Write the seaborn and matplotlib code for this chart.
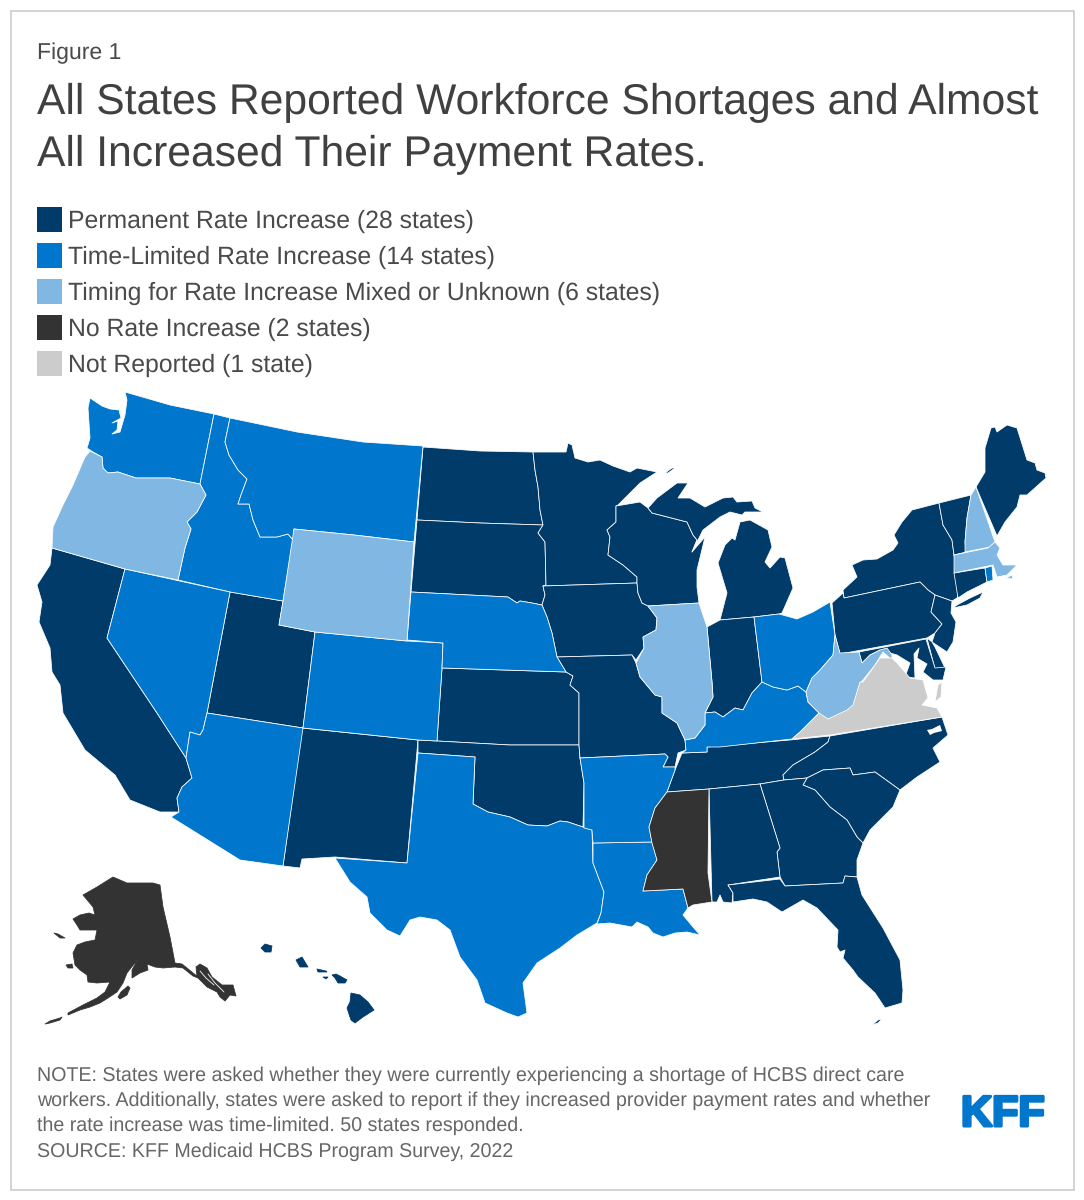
import matplotlib
matplotlib.use("Agg")
import matplotlib.pyplot as plt
from matplotlib.patches import Patch, Rectangle
import matplotlib.patheffects as pe
import seaborn as sns

# ---- legend / categories ----
CATEGORY_LABELS = ["Permanent Rate Increase (28 states)", "Time-Limited Rate Increase (14 states)",
                   "Timing for Rate Increase Mixed or Unknown (6 states)", "No Rate Increase (2 states)",
                   "Not Reported (1 state)"]
CATEGORY_COLORS = ["#003B6A", "#0076CC", "#80B8E3", "#333333", "#CCCCCC"]

PERMANENT = ["CA", "UT", "NM", "ND", "SD", "KS", "OK", "MN", "IA", "MO", "WI", "MI", "IN", "TN", "NC", "SC",
             "GA", "AL", "FL", "NY", "PA", "NJ", "DE", "MD", "VT", "ME", "CT", "HI"]
TIME_LIMITED = ["WA", "ID", "MT", "NV", "AZ", "CO", "NE", "TX", "LA", "AR", "KY", "OH", "RI"]
MIXED = ["OR", "WY", "IL", "WV", "NH", "MA"]
NO_INCREASE = ["MS", "AK"]
NOT_REPORTED = ["VA"]
INSET_STATES = ["AK", "HI"]

# ---- state outlines (map x, map y) ----
WA = [(125,392),(170,405),(214,414),(200,484),(170,478),(147,478),(136,478),(118,472),(108,473),(103,468),(102,457),(93,452),(87,448),(90,438),(88,408),(90,398),(102,406),(110,409),(119,410),(121,418),(112,423),(118,421),(117,430),(112,434),(120,432),(125,415),(127,400)]
OR = [(90,451),(102,457),(103,468),(108,473),(118,472),(136,478),(147,478),(170,478),(200,484),(206,495),(197,512),(187,522),(191,529),(185,548),(178,580),(125,569),(52,548),(53,527),(63,505),(73,485),(85,457)]
ID = [(214,414),(230,418),(225,442),(229,455),(238,470),(247,479),(241,495),(238,504),(249,504),(253,520),(260,537),(277,537),(288,534),(293,540),(283,601),(230,592),(178,580),(185,548),(191,529),(187,522),(197,512),(206,495),(200,484)]
MT = [(230,418),(297,432),(363,442),(423,446),(414,542),(354,535),(294,529),(293,540),(288,534),(277,537),(260,537),(253,520),(249,504),(238,504),(241,495),(247,479),(238,470),(229,455),(225,442)]
WY = [(294,529),(354,535),(414,542),(407,641),(315,632),(279,625),(283,601)]
ND = [(423,447),(480,451),(533,452),(535,470),(538,487),(540,510),(543,525),(480,523),(417,520)]
SD = [(417,520),(480,523),(543,525),(538,533),(545,542),(546,585),(543,586),(545,595),(542,605),(532,603),(520,601),(517,603),(508,597),(411,592)]
NE = [(411,592),(508,597),(517,603),(520,601),(532,603),(542,605),(547,617),(552,633),(557,657),(566,672),(442,668),(443,643),(407,640)]
KS = [(442,668),(566,672),(573,676),(570,685),(579,693),(579,745),(510,745),(437,741)]
OK = [(418,740),(437,741),(510,745),(579,745),(580,758),(584,783),(583,827),(568,822),(560,821),(547,826),(528,825),(510,817),(488,812),(473,804),(475,757),(418,753)]
TX = [(418,753),(475,757),(473,804),(488,812),(510,817),(528,825),(547,826),(560,821),(568,822),(583,827),(592,830),(593,863),(604,892),(601,913),(597,923),(577,935),(560,948),(537,963),(523,983),(527,1013),(518,1017),(507,1013),(485,1003),(477,980),(460,957),(450,930),(437,920),(420,917),(410,920),(400,936),(387,930),(370,913),(367,897),(350,882),(335,858),(407,863)]
NM = [(302,728),(418,740),(407,863),(335,857),(302,859),(300,868),(283,866)]
CO = [(315,632),(407,641),(443,643),(442,668),(437,741),(418,740),(303,728)]
UT = [(230,592),(283,601),(279,625),(315,632),(303,728),(207,713)]
NV = [(125,569),(230,592),(207,713),(203,730),(200,735),(190,732),(186,758),(157,713),(107,638)]
CA = [(52,548),(125,569),(107,638),(157,713),(186,758),(192,778),(182,787),(177,798),(179,812),(160,812),(130,800),(115,775),(85,750),(63,713),(60,685),(52,672),(50,648),(39,622),(42,602),(37,585),(50,565)]
AZ = [(207,713),(303,728),(283,866),(240,860),(171,817),(179,812),(177,798),(182,787),(192,778),(186,758),(190,732),(200,735),(203,730)]
MN = [(533,452),(566,452),(568,443),(572,445),(575,458),(588,462),(600,460),(613,466),(630,472),(637,468),(657,472),(640,483),(618,505),(616,506),(616,522),(607,530),(610,537),(608,555),(623,565),(637,577),(637,583),(543,586),(546,585),(545,542),(538,533),(543,525),(540,510),(538,487),(535,470)]
IA = [(543,586),(637,583),(638,593),(642,603),(648,606),(657,618),(656,630),(643,637),(644,648),(636,660),(632,655),(557,657),(552,633),(547,617),(542,605),(545,595)]
MO = [(557,657),(632,655),(636,663),(640,677),(655,695),(662,697),(662,713),(677,723),(685,740),(686,750),(678,753),(675,767),(663,767),(668,757),(665,754),(580,758),(579,745),(579,693),(570,685),(573,676),(566,672)]
WI = [(616,506),(640,502),(648,508),(652,513),(687,522),(693,535),(697,540),(692,552),(705,537),(697,570),(697,587),(699,603),(648,606),(642,603),(638,593),(637,583),(637,577),(623,565),(608,555),(610,537),(607,530),(616,522)]
IL = [(648,606),(699,603),(702,612),(707,627),(712,682),(713,697),(705,713),(705,725),(695,738),(685,740),(677,723),(662,713),(662,697),(655,695),(640,677),(636,663),(644,648),(643,637),(656,630),(657,618)]
IN = [(707,627),(720,620),(754,617),(762,682),(752,693),(743,710),(735,708),(723,717),(715,712),(705,713),(713,697),(712,682)]
OH = [(754,617),(779,614),(797,619),(813,612),(830,602),(835,635),(833,655),(820,670),(812,678),(806,692),(798,686),(787,690),(773,687),(762,682)]
KY = [(762,682),(773,687),(787,690),(798,686),(806,692),(808,702),(819,713),(800,732),(792,739),(720,747),(707,747),(707,752),(682,753),(686,750),(685,740),(695,738),(705,725),(705,713),(715,712),(723,717),(735,708),(743,710),(752,693)]
TN = [(682,753),(707,752),(707,747),(790,740),(830,736),(828,742),(815,752),(793,765),(783,775),(784,780),(760,784),(709,789),(667,792),(675,770)]
NC = [(830,736),(942,717),(948,735),(933,748),(940,762),(917,777),(900,790),(875,772),(853,775),(850,768),(823,770),(807,778),(784,780),(783,775),(793,765),(815,752),(828,742)]
NC_SOUNDS = [(927,730),(932,729),(940,725),(942,731),(934,733),(930,735)]
SC = [(807,778),(823,770),(850,768),(853,775),(875,772),(900,790),(893,807),(870,830),(863,843),(857,837),(847,820),(830,807),(815,790),(803,785)]
GA = [(760,784),(784,780),(807,778),(803,785),(815,790),(830,807),(847,820),(857,837),(863,843),(857,860),(857,877),(845,876),(843,883),(785,886),(780,877),(777,852),(780,848)]
AL = [(709,789),(760,784),(780,848),(777,852),(780,877),(728,885),(733,893),(732,903),(723,902),(720,895),(717,902),(712,902)]
FL = [(728,885),(780,879),(785,886),(843,883),(845,876),(857,877),(862,895),(883,928),(900,960),(903,990),(902,1003),(885,1008),(875,993),(858,977),(853,970),(843,958),(845,950),(840,952),(837,947),(838,930),(817,908),(803,900),(782,912),(767,902),(753,899),(733,902),(733,893)]
FL_KEYS = [(872,1025),(878,1020),(882,1019),(878,1023)]
MS = [(667,792),(709,789),(708,873),(712,902),(693,905),(688,908),(683,889),(643,891),(647,875),(657,860),(652,843),(649,827),(655,808)]
LA = [(593,843),(652,842),(657,860),(647,875),(643,891),(683,889),(688,908),(683,915),(693,927),(700,935),(687,932),(675,933),(663,937),(653,933),(648,927),(637,922),(632,927),(610,923),(597,924),(601,913),(604,892),(593,863)]
AR = [(580,758),(665,754),(668,757),(663,767),(675,767),(675,770),(667,792),(655,808),(649,827),(652,842),(593,843),(592,830),(584,828),(584,783)]
MI_LOWER = [(720,620),(727,593),(718,563),(725,545),(732,538),(735,540),(740,522),(750,520),(768,530),(772,547),(765,562),(770,568),(780,557),(785,558),(793,588),(782,613),(779,614),(754,617)]
MI_UPPER = [(648,508),(657,498),(677,483),(688,483),(678,498),(690,498),(705,507),(723,498),(733,497),(737,502),(752,501),(755,508),(763,512),(745,512),(742,515),(730,512),(720,517),(703,530),(692,552),(697,540),(693,535),(687,522),(652,513)]
MI_ROYALE = [(665,473),(672,468),(675,468),(668,473)]
NY = [(843,590),(844,598),(920,582),(928,590),(935,595),(952,601),(957,598),(959,592),(954,555),(952,540),(943,525),(939,503),(912,510),(902,522),(894,535),(898,543),(893,550),(877,559),(863,560),(852,565),(857,577)]
NY_LI = [(953,608),(957,605),(970,598),(983,592),(980,598),(967,605)]
PA = [(832,603),(843,593),(844,598),(920,582),(928,590),(935,595),(931,612),(942,624),(935,633),(927,638),(840,654),(835,635)]
NJ = [(935,595),(952,601),(951,613),(956,622),(953,642),(947,652),(932,642),(935,633),(942,624),(931,612)]
DE = [(927,638),(932,642),(935,647),(945,668),(935,669)]
MD = [(859,652),(926,639),(935,668),(946,667),(943,680),(933,680),(923,672),(927,664),(917,658),(919,648),(914,654),(915,678),(905,677),(910,663),(897,655),(880,650),(870,655),(862,663)]
WV = [(840,653),(859,652),(862,663),(870,655),(880,650),(887,648),(892,655),(892,660),(883,652),(875,665),(863,680),(860,683),(853,707),(840,715),(825,720),(819,713),(808,702),(806,692),(812,678),(820,670),(833,655),(835,635)]
VA = [(792,739),(800,732),(819,713),(828,719),(847,710),(853,705),(860,682),(863,682),(880,658),(892,658),(897,663),(910,678),(923,680),(928,698),(922,705),(937,708),(942,717),(830,735)]
VA_SHORE = [(935,702),(938,685),(942,682),(941,697)]
NH = [(971,495),(976,487),(995,542),(990,547),(965,552),(965,542),(967,518)]
VT = [(939,503),(971,495),(967,518),(965,542),(966,552),(954,555),(952,540),(943,525)]
ME = [(976,487),(985,472),(985,448),(991,428),(995,427),(997,432),(1007,425),(1017,428),(1027,460),(1035,463),(1037,470),(1045,473),(1046,478),(1027,495),(1020,495),(1017,507),(1005,522),(997,536)]
MA = [(954,555),(988,548),(995,542),(1000,548),(997,555),(1003,565),(1017,565),(1007,575),(997,577),(993,565),(954,573)]
MA_ISLAND = [(1006,578),(1012,575),(1013,579)]
CT = [(954,573),(985,568),(987,582),(967,592),(958,598)]
RI = [(985,568),(992,566),(993,580),(987,582)]
HI_KAUAI = [(261,948),(265,944),(272,946),(271,952),(265,952)]
HI_OAHU = [(296,960),(302,957),(308,967),(300,967)]
HI_MOLOKAI = [(317,969),(326,971),(327,972),(318,972)]
HI_LANAI = [(323,977),(328,977),(326,979)]
HI_MAUI = [(332,975),(336,974),(340,976),(347,980),(345,983),(338,983),(335,978)]
HI_BIG = [(351,993),(360,995),(368,1002),(374,1010),(363,1017),(355,1023),(351,1020),(347,1008),(350,1002)]
AK = [(160,885),(163,907),(170,937),(175,963),(182,964),(187,968),(193,973),(197,976),(196,967),(200,964),(207,968),(212,977),(222,985),(233,985),(236,996),(230,995),(225,1001),(220,997),(217,992),(207,987),(198,978),(193,976),(183,968),(175,967),(163,968),(155,967),(147,964),(148,970),(140,973),(132,978),(132,970),(138,959),(127,973),(123,983),(117,992),(108,998),(100,1003),(90,1007),(80,1010),(68,1015),(68,1013),(83,1005),(97,998),(105,992),(110,982),(97,983),(88,982),(87,975),(80,970),(75,965),(73,953),(77,945),(85,942),(95,940),(97,930),(80,930),(77,925),(73,919),(80,915),(89,913),(95,915),(93,907),(83,895),(97,887),(113,877),(127,883),(143,883),(153,883)]
AK_ALEUT = [(45,1024),(50,1021),(60,1018),(62,1017),(60,1020),(50,1023)]
AK_KODIAK = [(118,997),(121,992),(128,986),(130,988),(127,995),(120,999)]
AK_NUNIVAK = [(66,965),(72,964),(73,968),(68,968)]
AK_LAWRENCE = [(54,933),(58,934),(65,938),(60,938)]
AK_CHANNEL_X = [200, 206, 214]
AK_CHANNEL_Y = [971, 978, 985]
AK_CHANNEL2_X = [208, 215, 224]
AK_CHANNEL2_Y = [974, 983, 992]

SHAPES = {"WA": [WA], "OR": [OR], "ID": [ID], "MT": [MT], "WY": [WY], "ND": [ND], "SD": [SD], "NE": [NE], "KS": [KS],
          "OK": [OK], "TX": [TX], "NM": [NM], "CO": [CO], "UT": [UT], "NV": [NV], "CA": [CA], "AZ": [AZ], "MN": [MN],
          "IA": [IA], "MO": [MO], "WI": [WI], "IL": [IL], "IN": [IN], "OH": [OH], "KY": [KY], "TN": [TN], "NC": [NC],
          "SC": [SC], "GA": [GA], "AL": [AL], "FL": [FL, FL_KEYS], "MS": [MS], "LA": [LA], "AR": [AR],
          "MI": [MI_LOWER, MI_UPPER, MI_ROYALE], "NY": [NY, NY_LI], "PA": [PA], "NJ": [NJ], "DE": [DE], "MD": [MD],
          "WV": [WV], "VA": [VA, VA_SHORE], "NH": [NH], "VT": [VT], "ME": [ME], "MA": [MA, MA_ISLAND], "CT": [CT],
          "RI": [RI], "HI": [HI_KAUAI, HI_OAHU, HI_MOLOKAI, HI_LANAI, HI_MAUI, HI_BIG],
          "AK": [AK, AK_ALEUT, AK_KODIAK, AK_NUNIVAK, AK_LAWRENCE]}

FIGURE_LABEL = "Figure 1"
TITLE_LINES = ["All States Reported Workforce Shortages and Almost", "All Increased Their Payment Rates."]
NOTE_LINES = ["NOTE: States were asked whether they were currently experiencing a shortage of HCBS direct care",
              "workers. Additionally, states were asked to report if they increased provider payment rates and whether",
              "the rate increase was time-limited. 50 states responded.",
              "SOURCE: KFF Medicaid HCBS Program Survey, 2022"]

sns.set_theme(style="white")
plt.rcParams["font.family"] = ["Liberation Sans", "DejaVu Sans"]
plt.rcParams["text.hinting"] = "none"
plt.rcParams["text.hinting_factor"] = 8
palette = sns.color_palette(CATEGORY_COLORS)

fig = plt.figure(figsize=(10.84, 12), dpi=100)
ax = fig.add_axes([0, 0, 1, 1])
ax.set_xlim(0, 1084)
ax.set_ylim(1200, 0)
ax.axis("off")

ax.add_patch(Rectangle((10.5, 10.5), 1063, 1179, fill=False, ec="#C8C8C8", lw=1.1))

groups = [PERMANENT, TIME_LIMITED, MIXED, NO_INCREASE, NOT_REPORTED]
for states, colour in zip(groups, palette):
    for st in states:
        edge = colour if st in INSET_STATES else "white"
        for outline in SHAPES[st]:
            xs, ys = zip(*outline)
            ax.fill(xs, ys, facecolor=colour, edgecolor=edge, linewidth=0.55, joinstyle="round", zorder=2)

sx, sy = zip(*NC_SOUNDS)
ax.fill(sx, sy, facecolor="white", edgecolor="none", zorder=3)
ax.plot(AK_CHANNEL_X, AK_CHANNEL_Y, color="white", lw=0.6, zorder=3)
ax.plot(AK_CHANNEL2_X, AK_CHANNEL2_Y, color="white", lw=0.6, zorder=3)

GREY = "#4A4A4A"
ax.text(37, 59, FIGURE_LABEL, fontsize=16.6, color=GREY, va="baseline")
for line, y in zip(TITLE_LINES, [114, 166]):
    ax.text(37, y, line, fontsize=30.7, color="#404040", va="baseline")
for line, y in zip(NOTE_LINES, [1081, 1106, 1131, 1157]):
    ax.text(37, y, line, fontsize=14.15, color="#666666", va="baseline")

handles = [Patch(facecolor=c, edgecolor="none") for c in palette]
leg = ax.legend(handles, CATEGORY_LABELS, loc="upper left", bbox_to_anchor=(37 / 1084, 1 - 207.5 / 1200),
                frameon=False, fontsize=17.8, labelcolor="#4A4A4A", handlelength=1.0, handleheight=1.17,
                handletextpad=0.25, labelspacing=0.405, borderpad=0, borderaxespad=0)

ax.text(961, 1126, "KFF", fontsize=31, fontweight="bold", color="#0076CC", va="baseline",
        path_effects=[pe.withStroke(linewidth=2.2, foreground="#0076CC")])

fig.savefig("out.png", dpi=100)
